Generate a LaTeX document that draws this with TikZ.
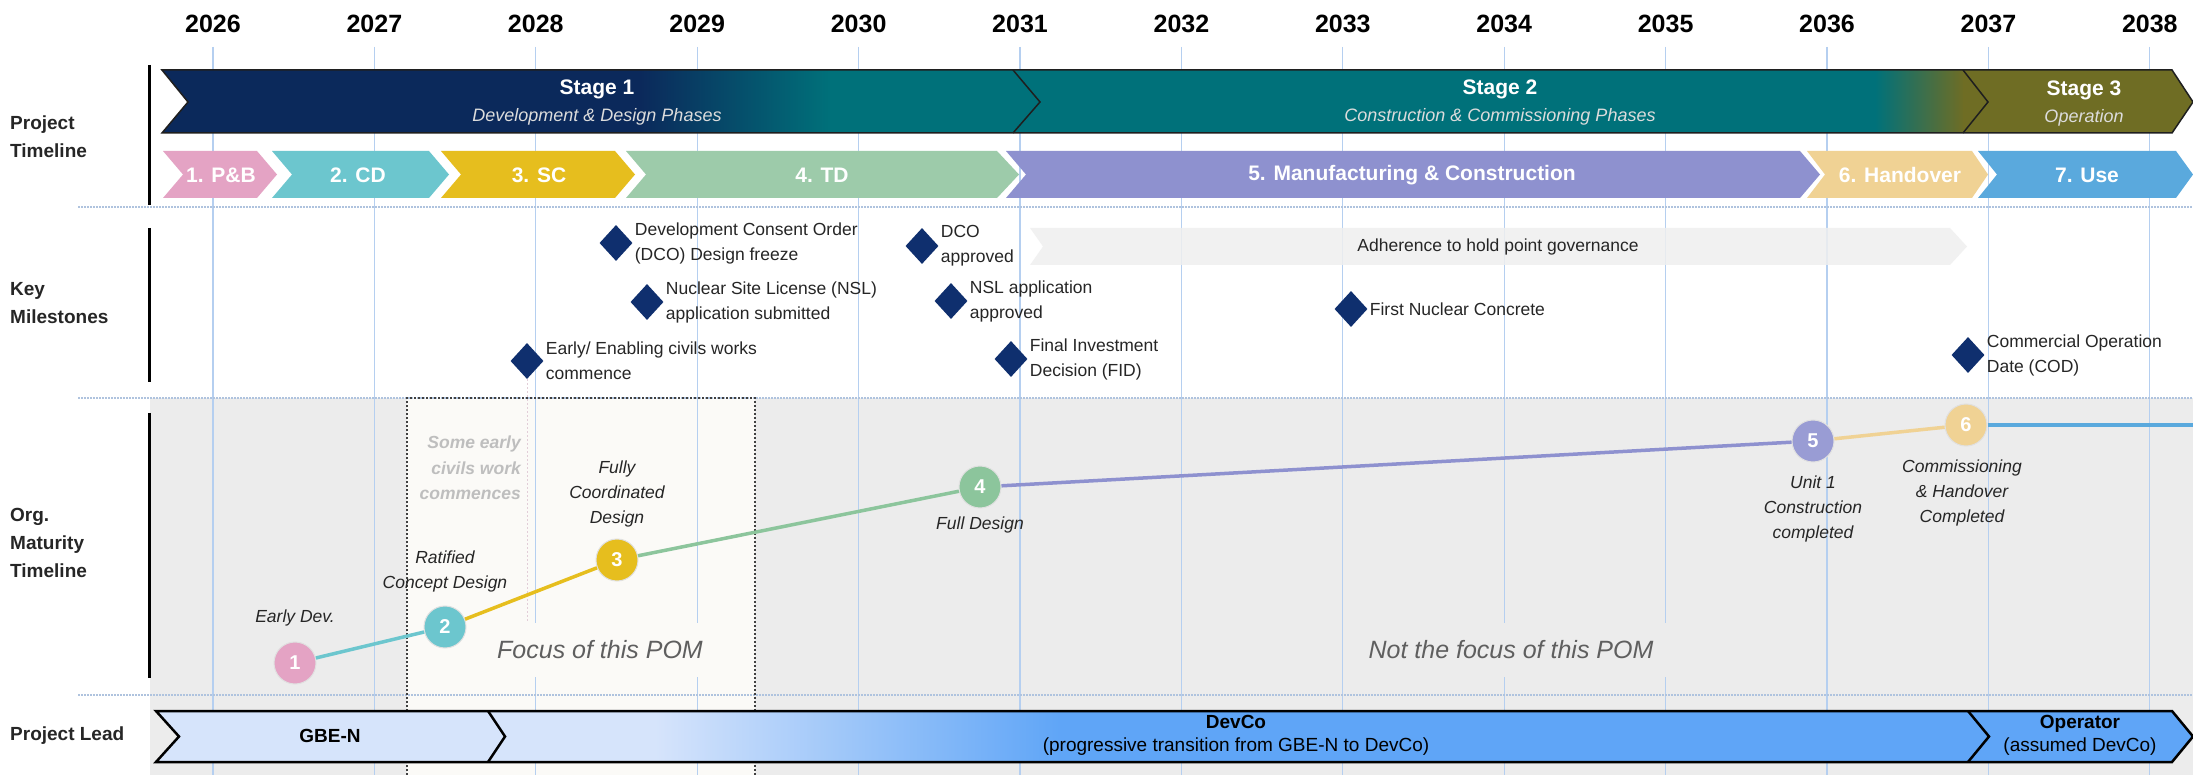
\documentclass[tikz,border=0pt]{standalone}
\usepackage{fontspec}
\setmainfont{Liberation Sans}
\usetikzlibrary{shapes.geometric}
\definecolor{navyS}{HTML}{0B295B}
\definecolor{tealS}{HTML}{00717A}
\definecolor{oliveS}{HTML}{6F6D24}
\definecolor{diam}{HTML}{0F2F6E}
\definecolor{pinkP}{HTML}{E4A3C4}
\definecolor{tealP}{HTML}{6CC6CE}
\definecolor{yellowP}{HTML}{E6BE1E}
\definecolor{greenP}{HTML}{9DCBAA}
\definecolor{greenC}{HTML}{8CC59C}
\definecolor{purpleP}{HTML}{8E91CF}
\definecolor{tanP}{HTML}{F0D294}
\definecolor{blueP}{HTML}{5AA9DD}
\definecolor{yearline}{HTML}{B5CFF0}
\definecolor{sepc}{HTML}{AFC3DE}
\definecolor{grayBG}{HTML}{ECECEC}
\definecolor{pomBG}{HTML}{FBFAF7}
\definecolor{leadLight}{HTML}{D6E4FB}
\definecolor{leadBlue}{HTML}{5FA5F7}
\definecolor{subtxt}{HTML}{DCDCDC}
\definecolor{txt}{HTML}{262626}
\definecolor{adh}{HTML}{EFEFEF}
\definecolor{civil}{HTML}{BEBEBE}
\definecolor{focustxt}{HTML}{5F5F5F}
\tikzset{
  yr/.style={font=\fontsize{25}{28}\selectfont\bfseries, inner sep=0, text=black},
  rowlab/.style={font=\fontsize{19}{28}\selectfont\bfseries, align=left, anchor=west, inner sep=0, text=txt},
  stagett/.style={font=\fontsize{21}{24}\selectfont\bfseries, text=white, inner sep=0},
  stagesub/.style={font=\fontsize{18}{21}\selectfont\itshape, text=subtxt, inner sep=0},
  phaselab/.style={font=\fontsize{21}{24}\selectfont\bfseries, text=white, inner sep=0},
  ms/.style={diamond, fill=diam, minimum width=33, minimum height=36, inner sep=0},
  mstext/.style={font=\fontsize{17.5}{25}\selectfont, align=left, anchor=west, inner sep=0, text=txt},
  stepc/.style={circle, minimum size=42, inner sep=0, draw=black!12, line width=1, font=\fontsize{20}{22}\selectfont\bfseries, text=white},
  matlab/.style={font=\fontsize{17.5}{25}\selectfont\itshape, align=center, inner sep=0, text=txt},
  focuslab/.style={font=\fontsize{25}{28}\selectfont\itshape, text=focustxt, inner sep=0},
  leadtxt/.style={font=\fontsize{19}{23}\selectfont, align=center, inner sep=0, text=black},
  matline/.style={line width=3.5},
  sepline/.style={draw=sepc, line width=2.5, dash pattern=on 1.5pt off 1.5pt},
  yearln/.style={draw=yearline, line width=1.2},
  rowbar/.style={draw=black, line width=3},
  bandline/.style={draw=black!88, line width=1.5},
  leadline/.style={draw=black, line width=2.5},
}
\begin{document}
\begin{tikzpicture}[x=1pt,y=-1pt]
\useasboundingbox (0,0) rectangle (2193,775);
\fill[white] (0,0) rectangle (2193,775);
% backgrounds
\fill[grayBG] (150,398) rectangle (2193,775);
\fill[pomBG] (407,398) rectangle (755,775);
% year labels and lines
\foreach \i in {0,...,12}{
  \pgfmathtruncatemacro\yy{2026+\i}
  \pgfmathsetmacro\xx{213+161.4*\i}
  \node[yr] (yl\i) at (\xx,24) {\yy};
  \draw[yearln] (\xx,47) -- (\xx,775);
}
% separators
\draw[sepline] (78,207) -- (2193,207);
\draw[sepline] (78,398) -- (2193,398);
\draw[sepline] (78,695) -- (2193,695);
% POM box border
\draw[draw=black!75, line width=1.5, dash pattern=on 2pt off 2pt] (407,775) -- (407,398) -- (755,398) -- (755,775);
% row bars
\draw[rowbar] (149,65) -- (149,205);
\draw[rowbar] (149,228) -- (149,382);
\draw[rowbar] (149,413) -- (149,678);
% row labels
\node[rowlab] (lab1) at (10,137) {Project\\Timeline};
\node[rowlab] (lab2) at (10,303) {Key\\Milestones};
\node[rowlab] (lab3) at (10,543) {Org.\\Maturity\\Timeline};
\node[rowlab] (lab4) at (10,736) {Project Lead};
% stage band
\begin{scope}
  \clip (162,70) -- (2172,70) -- (2193,102) -- (2172,133) -- (162,133) -- (188,102) -- cycle;
  \fill[navyS] (150,60) rectangle (641,140);
  \shade[left color=navyS, right color=tealS] (640,60) rectangle (831,140);
  \fill[tealS] (830,60) rectangle (1876,140);
  \shade[left color=tealS, right color=oliveS] (1875,60) rectangle (1964,140);
  \fill[oliveS] (1963,60) rectangle (2200,140);
\end{scope}
\draw[bandline] (162,70) -- (2172,70) -- (2193,102) -- (2172,133) -- (162,133) -- (188,102) -- cycle;
\draw[bandline] (1013,70) -- (1040,102) -- (1013,133);
\draw[bandline] (1963,70) -- (1988,102) -- (1963,133);
\node[stagett] (s1) at (597,89) {Stage 1};
\node[stagesub] (s1b) at (597,117) {Development \& Design Phases};
\node[stagett] (s2) at (1500,89) {Stage 2};
\node[stagesub] (s2b) at (1500,117) {Construction \& Commissioning Phases};
\node[stagett] (s3) at (2084,90) {Stage 3};
\node[stagesub] (s3b) at (2084,118) {Operation};
% phase chevrons
\fill[pinkP]   (163,151) -- (257,151) -- (277,174.5) -- (257,198) -- (163,198) -- (183,174.5) -- cycle;
\fill[tealP]   (272,151) -- (429,151) -- (449,174.5) -- (429,198) -- (272,198) -- (292,174.5) -- cycle;
\fill[yellowP] (441,151) -- (615,151) -- (635,174.5) -- (615,198) -- (441,198) -- (461,174.5) -- cycle;
\fill[greenP]  (626,151) -- (997,151) -- (1019,174.5) -- (997,198) -- (626,198) -- (646,174.5) -- cycle;
\fill[purpleP] (1006,151) -- (1800,151) -- (1820,174.5) -- (1800,198) -- (1006,198) -- (1026,174.5) -- cycle;
\fill[tanP]    (1807,151) -- (1972,151) -- (1988,174.5) -- (1972,198) -- (1807,198) -- (1825,174.5) -- cycle;
\fill[blueP]   (1978,151) -- (2176,151) -- (2193,174.5) -- (2176,198) -- (1978,198) -- (1997,174.5) -- cycle;
\node[phaselab] (p1) at (221,175) {1. P\&B};
\node[phaselab] (p2) at (358,175) {2. CD};
\node[phaselab] (p3) at (539,175) {3. SC};
\node[phaselab] (p4) at (822,175) {4. TD};
\node[phaselab] (p5) at (1412,175) {5. Manufacturing \& Construction};
\node[phaselab] (p6) at (1900,175) {6. Handover};
\node[phaselab] (p7) at (2087,175) {7. Use};
% adherence arrow
\fill[adh, fill opacity=0.85] (1030,228) -- (1950,228) -- (1967,246.5) -- (1950,265) -- (1030,265) -- (1043,246.5) -- cycle;
\node[mstext, anchor=center] (adh) at (1498,247) {Adherence to hold point governance};
% milestones
\node[ms] (m1) at (616,243) {};
\node[mstext] (m1t) at ([xshift=2]m1.east) {Development Consent Order\\(DCO) Design freeze};
\node[ms] (m2) at (647,302) {};
\node[mstext] (m2t) at ([xshift=2]m2.east) {Nuclear Site License (NSL)\\application submitted};
\node[ms] (m3) at (527,361) {};
\node[mstext] (m3t) at ([xshift=2]m3.east) {Early/ Enabling civils works\\commence};
\node[ms] (m4) at (922,246) {};
\node[mstext] (m4t) at ([xshift=2]m4.east) {DCO\\approved};
\node[ms] (m5) at (951,301) {};
\node[mstext] (m5t) at ([xshift=2]m5.east) {NSL application\\approved};
\node[ms] (m6) at (1011,359) {};
\node[mstext] (m6t) at ([xshift=2]m6.east) {Final Investment\\Decision (FID)};
\node[ms] (m7) at (1351,309) {};
\node[mstext] (m7t) at ([xshift=2]m7.east) {First Nuclear Concrete};
\node[ms] (m8) at (1968,355) {};
\node[mstext] (m8t) at ([xshift=2]m8.east) {Commercial Operation\\Date (COD)};
% early civils connector
\coordinate (civend) at (527,622);
\draw[draw=black!20!pinkP!40, line width=1, dash pattern=on 2pt off 2pt] (m3.south) -- (civend);
\node[font=\fontsize{17.5}{25.5}\selectfont\bfseries\itshape, text=civil, align=right, anchor=east, inner sep=0] (civ) at (521,468) {Some early\\civils work\\commences};
% focus boxes
\fill[pomBG] (491,623) rectangle (730,677);
\node[focuslab] (foc) at (600,650) {Focus of this POM};
\fill[grayBG] (1346,623) rectangle (1677,677);
\node[focuslab] (nfoc) at (1511,650) {Not the focus of this POM};
% maturity steps
\node[stepc, fill=pinkP] (c1) at (295,663) {1};
\node[stepc, fill=tealP] (c2) at (445,627) {2};
\node[stepc, fill=yellowP] (c3) at (617,560) {3};
\node[stepc, fill=greenC] (c4) at (980,487) {4};
\node[stepc, fill=purpleP!90] (c5) at (1813,441) {5};
\node[stepc, fill=tanP] (c6) at (1966,425) {6};
\coordinate (cend) at (2193,425);
\draw[matline, tealP] (c1) -- (c2);
\draw[matline, yellowP] (c2) -- (c3);
\draw[matline, greenC] (c3) -- (c4);
\draw[matline, purpleP] (c4) -- (c5);
\draw[matline, tanP] (c5) -- (c6);
\draw[matline, blueP] (c6) -- (cend);
\node[matlab] (c1l) at (295,618) {Early Dev.};
\node[matlab] (c2l) at (445,571) {Ratified\\Concept Design};
\node[matlab] (c3l) at (617,494) {Fully\\Coordinated\\Design};
\node[matlab] (c4l) at (980,525) {Full Design};
\node[matlab] (c5l) at (1813,509) {Unit 1\\Construction\\completed};
\node[matlab] (c6l) at (1962,493) {Commissioning\\\& Handover\\Completed};
% project lead band
\begin{scope}
  \clip (156,711) -- (2172,711) -- (2193,736.5) -- (2172,762) -- (156,762) -- (179,736.5) -- cycle;
  \fill[leadLight] (150,700) rectangle (656,770);
  \shade[left color=leadLight, right color=leadBlue] (655,700) rectangle (1061,770);
  \fill[leadBlue] (1060,700) rectangle (2200,770);
\end{scope}
\draw[leadline] (156,711) -- (2172,711) -- (2193,736.5) -- (2172,762) -- (156,762) -- (179,736.5) -- cycle;
\draw[leadline] (488,711) -- (505,736.5) -- (488,762);
\draw[leadline] (1968,711) -- (1989,736.5) -- (1968,762);
\node[leadtxt, font=\fontsize{19}{23}\selectfont\bfseries] (gbe) at (330,736) {GBE-N};
\node[leadtxt] (devco) at (1236,735) {\textbf{DevCo}\\(progressive transition from GBE-N to DevCo)};
\node[leadtxt] (oper) at (2080,735) {\textbf{Operator}\\(assumed DevCo)};
\end{tikzpicture}
\end{document}
